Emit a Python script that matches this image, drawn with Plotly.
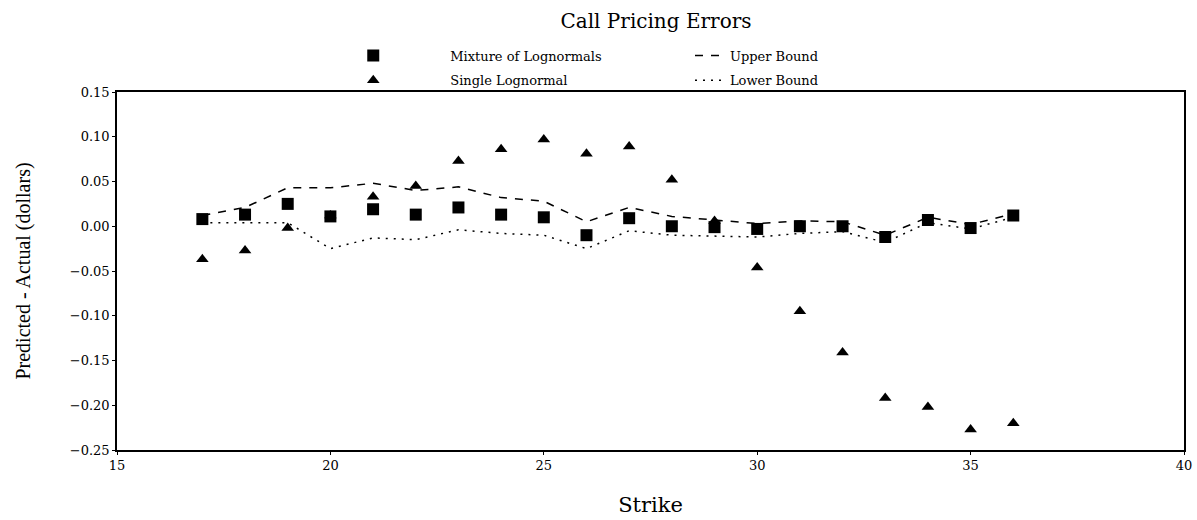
import plotly.graph_objects as go

strikes = [17, 18, 19, 20, 21, 22, 23, 24, 25, 26, 27, 28, 29, 30, 31, 32, 33, 34, 35, 36]
mixture = [0.008, 0.013, 0.025, 0.011, 0.019, 0.013, 0.021, 0.013, 0.010, -0.010,
           0.009, 0.000, -0.001, -0.003, 0.000, 0.000, -0.012, 0.007, -0.002, 0.012]
single = [-0.037, -0.027, -0.002, 0.012, 0.033, 0.045, 0.073, 0.086, 0.097, 0.081,
          0.089, 0.052, 0.006, -0.046, -0.095, -0.141, -0.192, -0.202, -0.227, -0.220]
upper = [0.012, 0.021, 0.043, 0.043, 0.048, 0.040, 0.044, 0.032, 0.028, 0.005,
         0.021, 0.011, 0.007, 0.003, 0.006, 0.005, -0.010, 0.010, 0.002, 0.014]
lower = [0.004, 0.004, 0.004, -0.025, -0.013, -0.015, -0.004, -0.008, -0.010, -0.025,
         -0.005, -0.010, -0.011, -0.012, -0.008, -0.006, -0.018, 0.004, -0.003, 0.010]

FONT = "DejaVu Serif"
VFONT = "Liberation Serif"

fig = go.Figure()
fig.add_trace(go.Scatter(x=strikes, y=upper, mode="lines", name="Upper Bound",
                         line=dict(color="black", width=1.5, dash="8px,8px"),
                         legend="legend2", legendgroup="u"))
fig.add_trace(go.Scatter(x=strikes, y=lower, mode="lines", name="Lower Bound",
                         line=dict(color="black", width=1.5, dash="2px,6px"),
                         legend="legend2", legendgroup="l"))
fig.add_trace(go.Scatter(x=strikes, y=mixture, mode="markers", name="Mixture of Lognormals",
                         marker=dict(symbol="square", size=12, color="black"),
                         legend="legend", legendgroup="m"))
fig.add_trace(go.Scatter(x=strikes, y=single, mode="markers", name="Single Lognormal",
                         marker=dict(symbol="triangle-up", size=11, color="black"),
                         legend="legend", legendgroup="s"))

fig.update_layout(
    width=1197, height=520,
    margin=dict(l=117, r=13, t=92, b=70, autoexpand=False),
    paper_bgcolor="white", plot_bgcolor="white",
    font=dict(family=FONT, color="black", size=13),
    title=dict(text="Call Pricing Errors", x=656/1197, xanchor="center",
               y=1 - 21/520, yanchor="middle", yref="container",
               font=dict(family=FONT, size=20, color="black")),
    legend=dict(x=0.168, y=1.067, xanchor="left", yanchor="middle", orientation="v",
                font=dict(family=FONT, size=13), bgcolor="rgba(0,0,0,0)",
                traceorder="grouped", tracegroupgap=5, itemwidth=144),
    legend2=dict(x=0.537, y=1.067, xanchor="left", yanchor="middle", orientation="v",
                 font=dict(family=FONT, size=13), bgcolor="rgba(0,0,0,0)",
                 traceorder="grouped", tracegroupgap=5, itemwidth=30),
    xaxis=dict(range=[15, 40], dtick=5, tick0=15, showgrid=False, zeroline=False,
               showline=True, linecolor="black", linewidth=1.5, mirror=True,
               ticks="outside", ticklen=3, tickcolor="black",
               title=dict(text="Strike", font=dict(family=FONT, size=21), standoff=25),
               tickfont=dict(family=FONT, size=13)),
    yaxis=dict(range=[-0.25, 0.15], dtick=0.05, tick0=-0.25, tickformat=".2f",
               showgrid=False, zeroline=False,
               showline=True, linecolor="black", linewidth=1.5, mirror=True,
               ticks="outside", ticklen=3, tickcolor="black",
               title=dict(text="Predicted - Actual (dollars)", font=dict(family=VFONT, size=20), standoff=34),
               tickfont=dict(family=FONT, size=13)),
)

fig.write_html("out.html", config={"displayModeBar": False},
               post_script="document.body.style.margin='0';document.body.style.overflow='hidden';")
